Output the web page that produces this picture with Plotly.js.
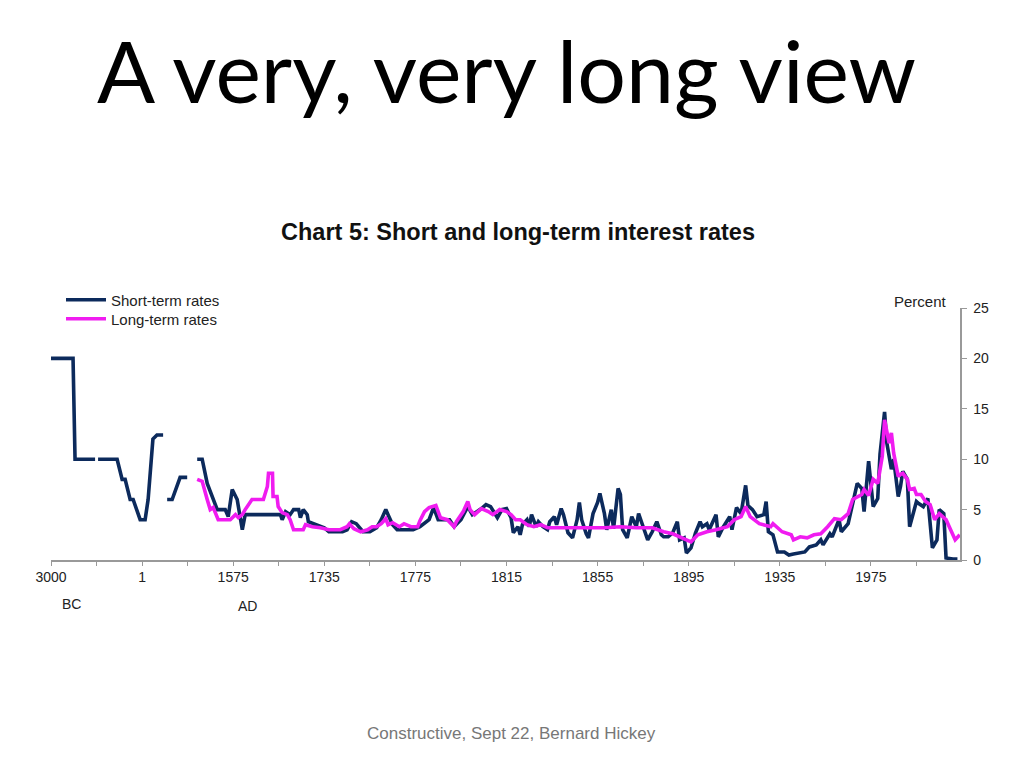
<!DOCTYPE html>
<html>
<head>
<meta charset="utf-8">
<script src="https://cdn.plot.ly/plotly-3.0.1.min.js"></script>
<style>html,body{margin:0;padding:0;background:#fff;}#chart{width:1024px;height:768px;}</style>
</head>
<body>
<div id="chart"></div>
<script>
// Axis segments (break-scale axis as in the original)
const tickYears = [-3000, 1, 1575, 1735, 1775, 1815, 1855, 1895, 1935, 1975, 2015];
const tickLabels = ["3000", "1", "1575", "1735", "1775", "1815", "1855", "1895", "1935", "1975"];

// Short-term rates (years; negative = BC); null = gap
const shortYears = [-3000,-2274,-2208,-1548,null,
 -1449,-822,-657,-558,-393,-294,-63,53,105,188,258,364,null,
 434,520,658,780,null,
 953,1039,1126,1212,1299,1437,1489,1558,1582,1591,1596,1658,1661,1667,1675,1681,1690,1693,1698,1705,1707,1716,1728,1735,1737,1743,1745,1747,1749,1752,1755,1758,1760,1762,1763,1765,1767,1774,1777,1779,1781,1783,1785,1787,1790,1792,1795,1798,1800,1804,1806,1808,1811,1813,1815,1817,1818,1820,1821,1822,1824,1825,1826,1828,1829,1831,1833,1834,1836,1837,1839,1840,1842,1844,1846,1847,1848,1850,1851,1853,1855,1856,1858,1859,1861,1862,1864,1865,1866,1868,1870,1872,1873,1875,1877,1879,1881,1883,1884,1886,1888,1890,1891,1893,1894,1896,1898,1900,1901,1903,1904,1907,1908,1910,1913,1914,1916,1918,1920,1921,1923,1925,1928,1929,1930,1932,1934,1937,1939,1941,1946,1948,1951,1953,1954,1957,1958,1961,1962,1965,1967,1969,1971,1972,1974,1976,1978,1979,1981,1982,1984,1985,1987,1988,1989,1991,1992,1995,1996,1998,2000,2001,2002,2004,2005,2007,2008,2011,2013];
const shortRates = [20,20,10,10,null,
 10,10,8,8,6,6,4,4,6,12,12.4,12.4,null,
 6,6,8.2,8.2,null,
 10,10,7.6,6.3,5,5,4.3,7,6,3,4.5,4.5,4,4.8,4.5,5,5,4.2,5,4.5,3.8,3.6,3.3,3.2,2.8,2.8,3,3.8,3.6,2.8,2.8,3.2,4,5,4.5,3.5,3,3,3.3,3.6,4,5.2,4,4,4,3.3,4,5.3,4.5,5.1,5.5,5.3,4.2,5,5.1,4.2,2.7,3.3,2.5,3.5,4,3.3,4.5,3.3,3.8,3.3,3,3.8,4.3,3.5,5.1,4.5,2.7,2.2,4,5.7,4,2.6,2.2,4.6,5.7,6.6,4.6,3,5,3.1,7.1,6.5,3,2.2,4.3,3.3,4.6,3.3,2,2.8,3.8,2.5,2.3,2.3,2.7,3.8,2,2.2,0.7,1.2,2.7,3.8,3.3,3.6,3,4.5,2.3,3.2,4.3,3,5.2,4.6,7.4,5.4,5,4.3,4.5,5.8,2.8,2.5,0.8,0.8,0.5,0.6,0.8,1.3,1.5,2,1.5,2.6,2.3,4,2.8,3.6,5.6,7.6,7.1,4.8,9.8,5.3,6.1,10.5,14.7,11.6,9,10,6.3,7.3,8.8,8,3.3,5.8,5.6,5.3,6.1,3.7,1.2,2,5,4.6,0.2,0.1,0.1];

// Long-term rates
const longYears = [953,1039,1126,1178,1230,1316,1524,1579,1584,1591,1596,1608,1628,1635,1637,1644,1645,1652,1654,1661,1670,1675,1681,1698,1702,1714,1728,1737,1742,1745,1746,1748,1751,1754,1756,1758,1760,1762,1763,1765,1768,1770,1773,1776,1777,1779,1781,1784,1786,1789,1792,1793,1796,1798,1799,1801,1804,1807,1809,1812,1815,1817,1819,1821,1824,1827,1830,1833,1836,1840,1844,1847,1852,1858,1865,1872,1879,1884,1888,1891,1896,1899,1903,1907,1912,1915,1918,1920,1922,1926,1931,1932,1936,1940,1941,1944,1947,1950,1953,1956,1959,1962,1965,1967,1971,1972,1974,1976,1978,1980,1981,1983,1984,1985,1987,1988,1989,1991,1992,1994,1995,1997,1999,2001,2003,2005,2008,2010,2012,2014];
const longRates = [8,7.8,6,5,5.2,4,4,4.5,4.2,4.5,5,6,6,7.3,8.6,8.6,6.3,6.3,5.3,4.7,4.5,4,3,3,3.5,3.3,3.2,3,3,3.3,3.6,3.1,2.8,3,3.3,3.3,3.6,4.1,3.5,3.7,3.3,3.6,3.3,3.3,3.9,4.8,5.2,5.4,4.2,4,3.3,3.8,4.8,5.8,5,4.5,5.1,4.8,4.5,5,4.8,4.5,4,4,3.5,3.3,3.5,3.2,3.2,3.2,3.2,3.2,3.2,3.2,3.3,3.2,3.2,2.8,2.6,2.3,1.8,2.5,2.8,3,3.3,4,4.3,5.3,4.3,3.6,3.3,3.6,2.8,2.5,2,2.3,2.2,2.5,2.6,3.3,4.1,4,4.6,6,6.5,7,6.4,8,7.6,10.3,13.9,11.6,12.6,10.6,8.3,8.5,8.6,8,7,7.1,6.5,6.5,5.8,5.5,4,4.6,4,3,2,2.5];

// map a year onto the broken axis (one unit per labelled interval)
function pos(year){
  if (year === null) return null;
  for (let i = 0; i < tickYears.length - 1; i++){
    const a = tickYears[i], b = tickYears[i+1];
    if (year <= b || i === tickYears.length - 2) return i + (year - a) / (b - a);
  }
}

const tickVals = [], tickText = [];
for (let i = 0; i < tickLabels.length; i++){
  tickVals.push(i); tickText.push(tickLabels[i]);
  tickVals.push(i + 0.5); tickText.push("");
}

const W = 909, H = 252; // plot area
const paperX = px => (px - 51) / W;
const paperY = py => (560 - py) / H;
const FONT = 'Liberation Sans, Arial';

const traces = [
  {x: shortYears.map(pos), y: shortRates, type: 'scatter', mode: 'lines', name: 'Short-term rates',
   line: {color: '#0c2a5c', width: 3.6}, connectgaps: false, legend: 'legend'},
  {x: longYears.map(pos), y: longRates, type: 'scatter', mode: 'lines', name: 'Long-term rates',
   line: {color: '#f01cf0', width: 3.6}, legend: 'legend2'}
];

const legendBase = {xanchor: 'left', yanchor: 'middle',
  font: {family: FONT, size: 15, color: '#222'},
  bgcolor: 'rgba(0,0,0,0)', itemwidth: 40};

const layout = {
  width: 1024, height: 768,
  paper_bgcolor: '#fff', plot_bgcolor: '#fff',
  margin: {l: 51, r: 64, t: 308, b: 208},
  showlegend: true,
  legend: Object.assign({x: paperX(61), y: paperY(300)}, legendBase),
  legend2: Object.assign({x: paperX(61), y: paperY(319)}, legendBase),
  xaxis: {range: [0, 909/91.1], tickmode: 'array', tickvals: tickVals, ticktext: tickText,
          showgrid: false, zeroline: false, showline: true, linecolor: '#999', linewidth: 1.5,
          ticks: 'outside', ticklen: 4, tickcolor: '#999', tickwidth: 1,
          tickfont: {family: FONT, size: 14, color: '#222'}, fixedrange: true},
  yaxis: {range: [0, 25], side: 'right', dtick: 5, tick0: 0, showgrid: false, zeroline: false,
          showline: true, linecolor: '#999', linewidth: 1.5, ticks: 'outside', ticklen: 5,
          ticklabelstandoff: 4,
          tickcolor: '#999', tickfont: {family: FONT, size: 14, color: '#222'},
          fixedrange: true},
  annotations: [
    {text: 'A very, very long view', xref: 'paper', yref: 'paper', x: paperX(507), y: paperY(69),
     xanchor: 'center', yanchor: 'middle', showarrow: false,
     font: {family: 'Lato, Open Sans, sans-serif', size: 86, color: '#000'}},
    {text: '<b>Chart 5: Short and long-term interest rates</b>', xref: 'paper', yref: 'paper',
     x: paperX(518), y: paperY(232), xanchor: 'center', yanchor: 'middle', showarrow: false,
     font: {family: FONT, size: 23.5, color: '#111'}},
    {text: 'Percent', xref: 'paper', yref: 'paper', x: paperX(920), y: paperY(301),
     xanchor: 'center', yanchor: 'middle', showarrow: false,
     font: {family: FONT, size: 15, color: '#222'}},
    {text: 'BC', xref: 'paper', yref: 'paper', x: paperX(71), y: paperY(604),
     xanchor: 'center', yanchor: 'middle', showarrow: false,
     font: {family: FONT, size: 14, color: '#222'}},
    {text: 'AD', xref: 'paper', yref: 'paper', x: paperX(247), y: paperY(606),
     xanchor: 'center', yanchor: 'middle', showarrow: false,
     font: {family: FONT, size: 14, color: '#222'}},
    {text: 'Constructive, Sept 22, Bernard Hickey', xref: 'paper', yref: 'paper',
     x: paperX(512), y: paperY(733), xanchor: 'center', yanchor: 'middle', showarrow: false,
     font: {family: FONT, size: 17, color: '#777'}}
  ]
};

Plotly.newPlot('chart', traces, layout, {staticPlot: true, displayModeBar: false});
</script>
</body>
</html>
